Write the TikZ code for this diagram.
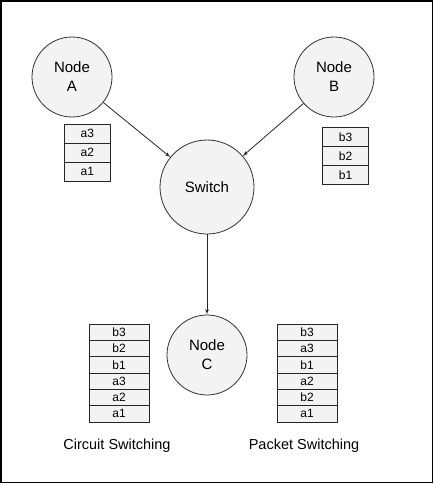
\documentclass[tikz,border=0pt]{standalone}
\usepackage{fontspec}
\setmainfont{Liberation Sans}
\usepackage{tikz}
\usetikzlibrary{shapes,arrows,positioning}
\definecolor{paleg}{HTML}{F3F3F3}
\tikzstyle{host} = [draw=black!80, fill=paleg, circle, line width=0.8pt, minimum size=80pt, inner sep=0pt, align=center, font=\fontsize{15}{19}\selectfont]
\tikzstyle{hub} = [host, minimum size=94pt]
\tikzstyle{smallcell} = [draw=black!85, fill=paleg, line width=0.8pt, minimum width=46pt, minimum height=19pt, inner sep=0pt, font=\fontsize{12}{14}\selectfont]
\tikzstyle{largecell} = [smallcell, minimum width=60pt, minimum height=16.33pt]
\tikzstyle{caption} = [font=\fontsize{14.5}{17}\selectfont]
\tikzstyle{arrow} = [draw, line width=0.8pt, color=black!85, -latex']
\tikzstyle{frame} = [draw, line width=1.3pt, color=black]
\newcommand{\hostnode}[2]{node (n#1) [host] {#2}}
\newcommand{\smallpkt}[2]{node (s#1) [smallcell] {#2}}
\newcommand{\largepkt}[2]{node (l#1) [largecell] {#2}}
\begin{document}
\begin{tikzpicture}[x=1pt,y=-1pt]
\useasboundingbox (0,0) rectangle (434,484);
\path[frame] (1,1) rectangle (432.5,482.5);

\path (72,77) \hostnode{A}{Node\\A};
\path (nA)+(262,0) \hostnode{B}{Node\\B};
\path (nA)+(135,110) node (sw) [hub] {Switch};
\path (sw)+(0,168) \hostnode{C}{Node\\C};

\path [arrow] (nA) -- (sw) node[] {};
\path [arrow] (nB) -- (sw) node[] {};
\path [arrow] (sw) -- (nC) node[] {};

% queue at node A
\path (nA)+(15.3,56.8) \smallpkt{a3}{a3};
\path (sa3)+(0,19) \smallpkt{a2}{a2};
\path (sa2)+(0,19) \smallpkt{a1}{a1};

% queue at node B
\path (nB)+(11.5,59.8) \smallpkt{b3}{b3};
\path (sb3)+(0,19) \smallpkt{b2}{b2};
\path (sb2)+(0,19) \smallpkt{b1}{b1};

% circuit switching
\path (nC)+(-88,-22.8) \largepkt{c1}{b3};
\path (lc1)+(0,16.33) \largepkt{c2}{b2};
\path (lc2)+(0,16.33) \largepkt{c3}{b1};
\path (lc3)+(0,16.33) \largepkt{c4}{a3};
\path (lc4)+(0,16.33) \largepkt{c5}{a2};
\path (lc5)+(0,16.33) \largepkt{c6}{a1};

% packet switching
\path (lc1)+(188,0) \largepkt{p1}{b3};
\path (lp1)+(0,16.33) \largepkt{p2}{a3};
\path (lp2)+(0,16.33) \largepkt{p3}{b1};
\path (lp3)+(0,16.33) \largepkt{p4}{a2};
\path (lp4)+(0,16.33) \largepkt{p5}{b2};
\path (lp5)+(0,16.33) \largepkt{p6}{a1};

\path (lc6)+(-2,32) node (cap1) [caption] {Circuit Switching};
\path (lp6)+(-3,32) node (cap2) [caption] {Packet Switching};
\end{tikzpicture}
\end{document}
